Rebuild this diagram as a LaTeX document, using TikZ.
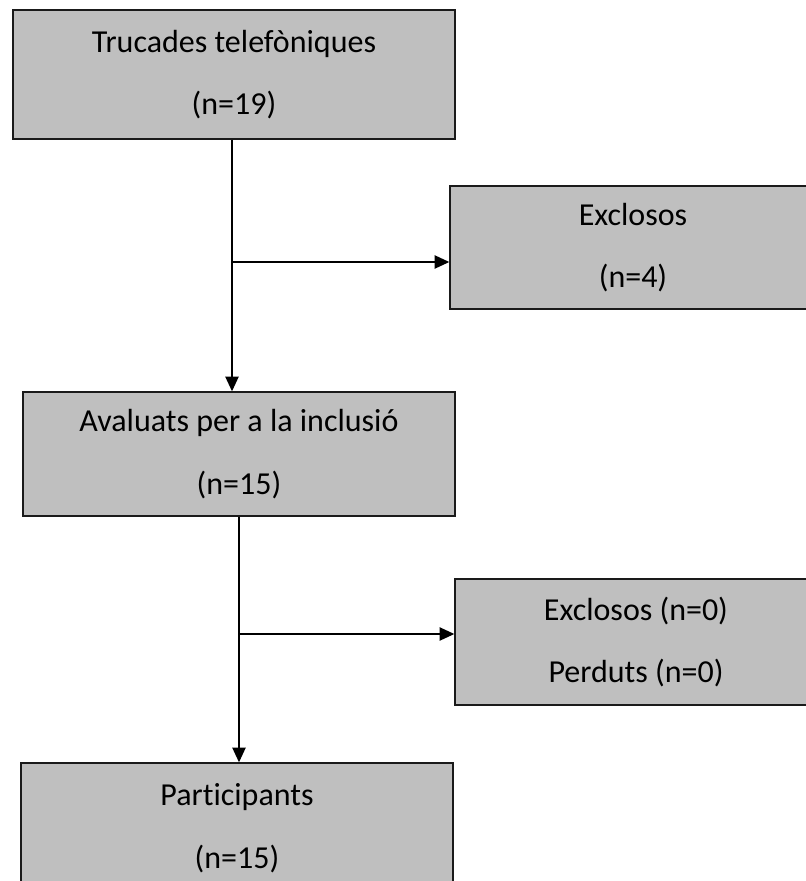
\documentclass[tikz,border=0pt]{standalone}
\usepackage{fontspec}
\setmainfont[Ligatures=NoCommon]{Carlito}
\usepackage{xcolor}
\usepackage{tikz}
\usetikzlibrary{arrows.meta, positioning, calc}
\definecolor{boxgrey}{HTML}{BFBFBF}
\definecolor{edgegrey}{HTML}{1A1A1A}

\begin{document}
\begin{tikzpicture}[
  x=0.75pt, y=-0.75pt,
  box/.style={draw=edgegrey, fill=boxgrey, line width=1.1pt, inner sep=0pt,
    align=center, font=\fontsize{24}{47}\selectfont},
  arr/.style={-{Triangle[width=10pt, length=11pt]}, line width=1pt},
]
  \clip (0,0) rectangle (806,881);
  \fill[white] (0,0) rectangle (806,881);

  % Main column
  \node[box, minimum width=331.5pt, minimum height=96.75pt] (calls) at (234,74.5)
    {Trucades telefòniques\\(n=19)};
  \node[box, minimum width=324pt, minimum height=93pt] (assessed) at (239,454)
    {Avaluats per a la inclusió\\(n=15)};
  \node[box, minimum width=324pt, minimum height=98.25pt] (parts) at (237,828.5)
    {Participants\\(n=15)};

  % Side boxes
  \node[box, minimum width=274.5pt, minimum height=92.25pt] (excl1) at (633,247.5)
    {Exclosos\\(n=4)};
  \node[box, minimum width=271.5pt, minimum height=94.5pt] (excl2) at (636,642)
    {Exclosos (n=0)\\Perduts (n=0)};

  % Branch points
  \coordinate (j1) at (232,262);
  \coordinate (j2) at (239,634);

  % Arrows
  \draw[arr] (calls.south -| j1) -- (assessed.north -| j1);
  \draw[arr] (j1) -- (j1 -| excl1.west);
  \draw[arr] (assessed.south -| j2) -- (parts.north -| j2);
  \draw[arr] (j2) -- (j2 -| excl2.west);

\end{tikzpicture}
\end{document}
